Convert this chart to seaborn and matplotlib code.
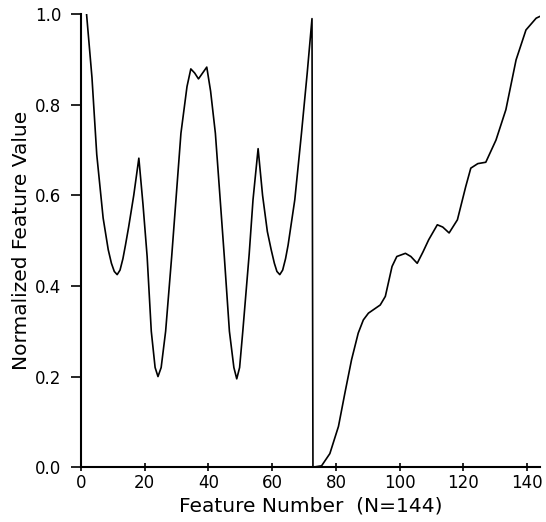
import numpy as np
import pandas as pd
import matplotlib
matplotlib.use("Agg")
import matplotlib.pyplot as plt
import seaborn as sns

# Feature values (first half: shape features, second half: cumulative features)
feat_left = [1.8, 3.5, 5.0, 7.0, 8.6, 9.6, 10.5, 11.4, 12.3, 13.2, 14.0, 15.0, 16.6, 18.2,
             19.5, 20.8, 22.1, 23.3, 24.2, 25.2, 26.6, 28.5, 31.4, 33.3, 34.5, 35.7, 36.9,
             38.2, 39.5, 40.7, 42.2, 45.0, 46.6, 48.0, 48.9, 49.8, 50.8, 52.8, 54.0, 55.6,
             57.0, 58.5, 59.7, 60.7, 61.5, 62.4, 63.3, 64.2, 65.0, 67.1, 69.2, 71.0, 72.5]
val_left = [1.0, 0.86, 0.69, 0.55, 0.48, 0.45, 0.432, 0.425, 0.435, 0.46, 0.49, 0.53, 0.60, 0.682,
            0.58, 0.465, 0.30, 0.22, 0.20, 0.22, 0.30, 0.465, 0.737, 0.84, 0.879, 0.87, 0.857,
            0.87, 0.883, 0.83, 0.737, 0.465, 0.30, 0.22, 0.195, 0.22, 0.30, 0.47, 0.59, 0.703,
            0.60, 0.52, 0.48, 0.45, 0.432, 0.425, 0.435, 0.46, 0.49, 0.59, 0.737, 0.87, 0.99]

feat_right = [72.8, 75.5, 78.1, 80.8, 82.8, 84.9, 87.0, 88.6, 90.2, 93.9, 95.5, 97.6, 99.1,
              101.8, 103.5, 105.5, 107.3, 109.1, 111.8, 113.5, 115.5, 118.1, 120.7, 122.3,
              124.5, 127.0, 130.2, 133.3, 136.5, 139.6, 142.8, 144.0]
val_right = [0.0, 0.003, 0.03, 0.09, 0.163, 0.237, 0.296, 0.325, 0.34, 0.358, 0.377, 0.443, 0.465,
             0.472, 0.465, 0.45, 0.475, 0.502, 0.535, 0.53, 0.517, 0.546, 0.619, 0.66,
             0.670, 0.673, 0.722, 0.789, 0.899, 0.965, 0.991, 0.995]

df = pd.DataFrame({
    "feature": feat_left + feat_right,
    "value": val_left + val_right,
})

sns.set_style("ticks")
plt.rcParams['font.family'] = ['DejaVu Sans']

fig = plt.figure(figsize=(5.46, 5.22), dpi=100)
ax = fig.add_axes([0.148, 0.105, 0.841, 0.868])

sns.lineplot(data=df, x="feature", y="value", sort=False, estimator=None,
             color="black", linewidth=1.2, ax=ax)

ax.set_xlim(0, 144)
ax.set_ylim(0, 1.0)
ax.set_xticks([0, 20, 40, 60, 80, 100, 120, 140])
ax.set_yticks([0.0, 0.2, 0.4, 0.6, 0.8, 1.0])
ax.set_yticklabels(["0.0", "0.2", "0.4", "0.6", "0.8", "1.0"])
ax.tick_params(axis="both", labelsize=12, width=1.2, colors="black")
ax.tick_params(axis="y", direction="out", length=7, pad=7)
ax.tick_params(axis="x", direction="inout", length=6, pad=2)

ax.set_xlabel("Feature Number  (N=144)", fontsize=14.5, labelpad=3, color="black")
ax.set_ylabel("Normalized Feature Value", fontsize=14.5, labelpad=3, color="black")

sns.despine(ax=ax)
for s in ["left", "bottom"]:
    ax.spines[s].set_linewidth(1.5)
    ax.spines[s].set_color("black")

fig.savefig("out.png", dpi=100)
